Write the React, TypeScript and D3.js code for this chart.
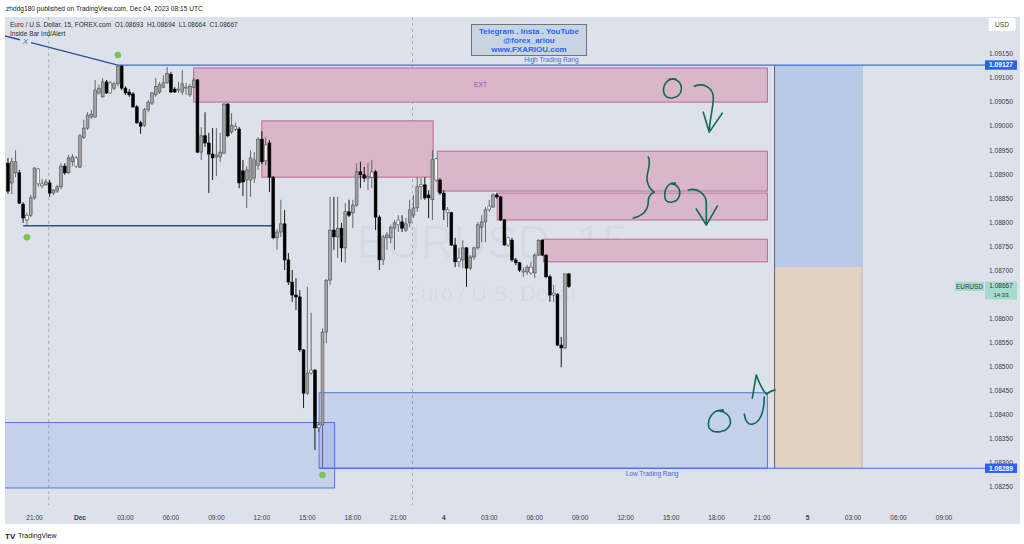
import React from 'react';
import * as d3 from 'd3';

const W = 1024;
const H = 544;

// 15-minute bars; bar 0 = Thu Nov 30 21:00 UTC. First candle is bar -7.
const FIRST_BAR = -7;
// [open, high, low, close]
const candles: [number, number, number, number][] = [
  [1.08923, 1.08934, 1.08859, 1.08865], // -7
  [1.08882, 1.08934, 1.08859, 1.08926], // -6
  [1.08903, 1.0895, 1.08894, 1.08926], // -5
  [1.08903, 1.08909, 1.08838, 1.0884], // -4
  [1.08838, 1.08842, 1.08799, 1.08809], // -3
  [1.08805, 1.0882, 1.08795, 1.08815], // -2
  [1.08815, 1.08857, 1.08811, 1.08851], // -1
  [1.08851, 1.08915, 1.08847, 1.08913], // 0
  [1.08911, 1.08913, 1.08874, 1.0888], // 1
  [1.0888, 1.0889, 1.08871, 1.08876], // 2
  [1.08878, 1.0889, 1.08876, 1.08884], // 3
  [1.08882, 1.08888, 1.08853, 1.08861], // 4
  [1.08861, 1.08869, 1.08857, 1.08867], // 5
  [1.08865, 1.08878, 1.08861, 1.08874], // 6
  [1.08874, 1.08923, 1.08869, 1.08917], // 7
  [1.08917, 1.08923, 1.08899, 1.08903], // 8
  [1.08903, 1.0894, 1.08901, 1.08934], // 9
  [1.08926, 1.08942, 1.08917, 1.08936], // 10
  [1.08934, 1.08938, 1.08913, 1.08917], // 11
  [1.08915, 1.08984, 1.08913, 1.0898], // 12
  [1.08977, 1.09013, 1.08973, 1.08996], // 13
  [1.08996, 1.09029, 1.08992, 1.09023], // 14
  [1.09019, 1.09034, 1.09015, 1.09025], // 15
  [1.09019, 1.09096, 1.09017, 1.09075], // 16
  [1.09069, 1.09086, 1.09065, 1.09079], // 17
  [1.09061, 1.091, 1.09059, 1.09092], // 18
  [1.09092, 1.09096, 1.09067, 1.09069], // 19
  [1.09069, 1.09094, 1.09067, 1.0909], // 20
  [1.09079, 1.09092, 1.09075, 1.09088], // 21
  [1.09088, 1.09127, 1.09083, 1.09125], // 22
  [1.09125, 1.09127, 1.09075, 1.09079], // 23
  [1.09079, 1.09083, 1.09065, 1.09069], // 24
  [1.09071, 1.09077, 1.09061, 1.09065], // 25
  [1.09067, 1.09071, 1.09038, 1.0904], // 26
  [1.0904, 1.09044, 1.09005, 1.09007], // 27
  [1.09007, 1.09011, 1.08984, 1.09], // 28
  [1.09002, 1.09038, 1.08998, 1.09034], // 29
  [1.09034, 1.09054, 1.09029, 1.0905], // 30
  [1.09048, 1.09071, 1.09044, 1.09069], // 31
  [1.09065, 1.091, 1.09061, 1.09083], // 32
  [1.09071, 1.09092, 1.09067, 1.09086], // 33
  [1.09081, 1.09106, 1.09079, 1.0909], // 34
  [1.0909, 1.09123, 1.09088, 1.0911], // 35
  [1.09108, 1.09113, 1.09069, 1.09071], // 36
  [1.09077, 1.09081, 1.09069, 1.09071], // 37
  [1.09075, 1.09092, 1.09069, 1.09077], // 38
  [1.09071, 1.09117, 1.09065, 1.09088], // 39
  [1.09079, 1.0909, 1.09065, 1.09081], // 40
  [1.09065, 1.09088, 1.09061, 1.09083], // 41
  [1.09081, 1.091, 1.09079, 1.09096], // 42
  [1.09096, 1.09098, 1.08944, 1.08946], // 43
  [1.08946, 1.08998, 1.0893, 1.0898], // 44
  [1.0898, 1.09029, 1.08957, 1.08965], // 45
  [1.08965, 1.08986, 1.08861, 1.08942], // 46
  [1.08942, 1.08996, 1.08888, 1.08934], // 47
  [1.08936, 1.08996, 1.08896, 1.0894], // 48
  [1.08936, 1.08986, 1.08926, 1.08946], // 49
  [1.08944, 1.09048, 1.08942, 1.09046], // 50
  [1.09046, 1.09048, 1.08977, 1.0898], // 51
  [1.08988, 1.09027, 1.08984, 1.09002], // 52
  [1.09, 1.09007, 1.0899, 1.08994], // 53
  [1.08994, 1.08998, 1.08871, 1.08882], // 54
  [1.08907, 1.0893, 1.08855, 1.08884], // 55
  [1.08888, 1.08917, 1.0883, 1.08909], // 56
  [1.08888, 1.0895, 1.08853, 1.08934], // 57
  [1.08892, 1.08946, 1.08882, 1.0893], // 58
  [1.08919, 1.08977, 1.08909, 1.08973], // 59
  [1.08973, 1.0899, 1.08921, 1.08926], // 60
  [1.08928, 1.08977, 1.08919, 1.08961], // 61
  [1.08965, 1.08971, 1.08863, 1.08894], // 62
  [1.08894, 1.08896, 1.08765, 1.08768], // 63
  [1.08768, 1.08786, 1.08743, 1.0878], // 64
  [1.0878, 1.08847, 1.0877, 1.08797], // 65
  [1.08797, 1.08826, 1.08701, 1.08722], // 66
  [1.08722, 1.08736, 1.0867, 1.08676], // 67
  [1.08676, 1.08701, 1.08635, 1.08649], // 68
  [1.08649, 1.08684, 1.08618, 1.08645], // 69
  [1.08645, 1.08659, 1.08531, 1.08535], // 70
  [1.08535, 1.08537, 1.08414, 1.08445], // 71
  [1.08445, 1.08666, 1.08441, 1.08487], // 72
  [1.08487, 1.08612, 1.08483, 1.08493], // 73
  [1.08493, 1.08495, 1.08327, 1.08373], // 74
  [1.08373, 1.08383, 1.08364, 1.08379], // 75
  [1.08379, 1.0858, 1.08289, 1.08572], // 76
  [1.08572, 1.08682, 1.08549, 1.0868], // 77
  [1.0868, 1.08853, 1.0867, 1.08784], // 78
  [1.08784, 1.08853, 1.08743, 1.0877], // 79
  [1.0877, 1.08853, 1.08726, 1.08788], // 80
  [1.08788, 1.08799, 1.08718, 1.08747], // 81
  [1.08747, 1.0884, 1.08716, 1.08822], // 82
  [1.08822, 1.08847, 1.08811, 1.08815], // 83
  [1.0882, 1.08847, 1.08788, 1.08836], // 84
  [1.08836, 1.08923, 1.08832, 1.08905], // 85
  [1.08905, 1.08926, 1.08871, 1.08899], // 86
  [1.08899, 1.08915, 1.08884, 1.08892], // 87
  [1.08892, 1.08923, 1.08867, 1.08896], // 88
  [1.08894, 1.0893, 1.08871, 1.08905], // 89
  [1.08905, 1.08909, 1.08784, 1.08811], // 90
  [1.08811, 1.08815, 1.08701, 1.08722], // 91
  [1.08722, 1.08774, 1.08711, 1.0877], // 92
  [1.08768, 1.0878, 1.08743, 1.08774], // 93
  [1.08768, 1.08795, 1.08757, 1.0879], // 94
  [1.08788, 1.08805, 1.08743, 1.08799], // 95
  [1.08795, 1.08815, 1.0878, 1.08805], // 96
  [1.08801, 1.08815, 1.0878, 1.08788], // 97
  [1.08784, 1.08809, 1.0878, 1.08797], // 98
  [1.08799, 1.08847, 1.0879, 1.08826], // 99
  [1.08815, 1.08857, 1.08809, 1.0883], // 100
  [1.0883, 1.08894, 1.08822, 1.08874], // 101
  [1.08874, 1.08892, 1.08847, 1.08878], // 102
  [1.08878, 1.08894, 1.08847, 1.08851], // 103
  [1.08857, 1.08867, 1.08809, 1.08851], // 104
  [1.08847, 1.0895, 1.08805, 1.0893], // 105
  [1.08932, 1.08934, 1.08884, 1.08888], // 106
  [1.08888, 1.08892, 1.08857, 1.08861], // 107
  [1.08861, 1.08867, 1.08805, 1.08826], // 108
  [1.08826, 1.08832, 1.0879, 1.0882], // 109
  [1.0882, 1.08822, 1.08751, 1.08753], // 110
  [1.08753, 1.08768, 1.08707, 1.08718], // 111
  [1.08718, 1.08747, 1.08707, 1.08726], // 112
  [1.08722, 1.08763, 1.08705, 1.08747], // 113
  [1.08747, 1.08749, 1.08666, 1.08705], // 114
  [1.08705, 1.08732, 1.08701, 1.08728], // 115
  [1.08728, 1.08749, 1.08722, 1.08747], // 116
  [1.08747, 1.08801, 1.08743, 1.08795], // 117
  [1.0879, 1.08815, 1.08759, 1.08801], // 118
  [1.08801, 1.08832, 1.08759, 1.08826], // 119
  [1.08826, 1.08847, 1.08822, 1.08834], // 120
  [1.08832, 1.08861, 1.0883, 1.08857], // 121
  [1.08857, 1.08861, 1.08849, 1.08853], // 122
  [1.08853, 1.08855, 1.08803, 1.08805], // 123
  [1.08805, 1.08807, 1.08751, 1.08753], // 124
  [1.08753, 1.0877, 1.08749, 1.08768], // 125
  [1.08763, 1.08768, 1.08718, 1.08722], // 126
  [1.08722, 1.08726, 1.08711, 1.08716], // 127
  [1.08716, 1.08718, 1.08697, 1.08701], // 128
  [1.08699, 1.08707, 1.08687, 1.08697], // 129
  [1.08697, 1.08711, 1.08691, 1.08707], // 130
  [1.08695, 1.08718, 1.08691, 1.08707], // 131
  [1.08695, 1.08736, 1.08684, 1.08732], // 132
  [1.08732, 1.08765, 1.0873, 1.08763], // 133
  [1.08763, 1.08765, 1.0873, 1.08732], // 134
  [1.08732, 1.08734, 1.08684, 1.08687], // 135
  [1.08687, 1.08691, 1.08635, 1.08649], // 136
  [1.08649, 1.0867, 1.08635, 1.08653], // 137
  [1.08651, 1.08653, 1.08543, 1.08545], // 138
  [1.08545, 1.08562, 1.08499, 1.08539], // 139
  [1.08539, 1.08693, 1.08537, 1.08693], // 140
  [1.08693, 1.08694, 1.08664, 1.08667], // 141
];

// bars coloured by the "Inside Bar Ind/Alert" indicator (hollow)
const insideBars = [-2, 1, 2, 11, 20, 38, 40, 53, 61, 73, 75, 89, 96, 102, 106, 109, 112, 120, 125, 129, 131, 137];

const priceTicks = [1.0915, 1.091, 1.0905, 1.09, 1.0895, 1.089, 1.0885, 1.088, 1.0875, 1.087, 1.0865, 1.086, 1.0855, 1.085, 1.0845, 1.084, 1.0835, 1.083, 1.0825];

const timeTickBars = [0, 12, 24, 36, 48, 60, 72, 84, 96, 108, 120, 132, 144, 156, 168, 180, 192, 204, 216, 228, 240];
const timeTickLabels = ['21:00', 'Dec', '03:00', '06:00', '09:00', '12:00', '15:00', '18:00', '21:00', '4', '03:00', '06:00', '09:00', '12:00', '15:00', '18:00', '21:00', '5', '03:00', '06:00', '09:00'];
const boldTimeLabels = ['Dec', '4', '5'];

const sessionBreakBars = [4, 100];

// supply zones [fromBar, toBar, top, bottom]
const supplyZones: [number, number, number, number][] = [
  [42, 193.4, 1.09121, 1.0905],
  [60, 105.2, 1.09011, 1.08894],
  [106.3, 193.4, 1.08948, 1.08865],
  [122.1, 193.4, 1.08861, 1.08805],
  [134.3, 193.4, 1.08765, 1.08718],
];
// demand zones [fromBar, toBar, top, bottom]
const demandZones: [number, number, number, number][] = [
  [-9, 79.2, 1.08384, 1.08248],
  [75.1, 193.4, 1.08446, 1.08289],
];
// position tool [fromBar, toBar, target, entry, stop]
const positionTool = [195.3, 218.4, 1.09127, 1.08707, 1.08289];

const highRange = { bar: 22, price: 1.09127, label: 'High Trading Rang' };
const lowRange = { bar: 75.1, price: 1.08289, label: 'Low Trading Rang' };
const swingLine = { from: -3, to: 63, price: 1.08793 };
const trendLine: [number, number][] = [[-8, 1.09188], [22, 1.09127]];
// pivot dots [bar, price]
const pivotDots: [number, number][] = [[22, 1.09148], [-2, 1.08769], [76, 1.08275]];

const lastClose = 1.08667;

// hand-drawn annotations: anchor [bar, price] + stroke shape in local pixels
const annotations: { bar: number; price: number; d: string }[] = [
  { bar: 168.3, price: 1.09079, d: 'M4,-9 C-5,-11 -11,-2 -8,6 C-5,12 7,11 9,2 C10,-5 5,-10 -3,-9 M22,-2 C32,-6 42,0 41,12 C40,24 37,34 37,44 M31,24 L37,44 L50,25' },
  { bar: 168.3, price: 1.08861, d: 'M-24,-36 C-20,-30 -27,-18 -25,-12 C-24,-6 -21,-3 -18,-1 C-22,1 -24,4 -24,8 C-24,14 -26,22 -39,25 M3,-10 C-5,-11 -9,-2 -7,6 C-5,11 5,10 7,3 C9,-4 4,-10 -2,-9 M16,-3 C26,-6 34,2 34,10 C34,18 34,26 34,32 M24,16 L34,32 L45,13' },
  { bar: 180.7, price: 1.08387, d: 'M4,-11 C-7,-12 -13,-1 -10,7 C-6,13 8,12 11,3 C12,-5 6,-11 -3,-10 M25,-7 C26,1 30,4 33,3 C40,2 45,-8 45,-24 M33,-23 L37,-46 C40,-38 44,-30 47,-27 C50,-29 53,-31 56,-31' },
];

const FONT = '"Liberation Sans", Arial, sans-serif';

export default function App() {
  const x = d3.scaleLinear().domain([0, 240]).range([34.5, 944]);
  const y = d3.scaleLinear().domain([1.0825, 1.0915]).range([487, 54]);
  const paneL = 5, paneR = 985, paneT = 17, paneB = 505;
  const bodyW = 2.8;

  const line = d3.line<[number, number]>().x((d) => x(d[0])).y((d) => y(d[1]));

  const tlA = trendLine[0], tlB = trendLine[1];
  const interp = (px: number): [number, number] => {
    const b = x.invert(px);
    const t = (b - tlA[0]) / (tlB[0] - tlA[0]);
    return [b, tlA[1] + t * (tlB[1] - tlA[1])];
  };

  const hiX1 = x(highRange.bar);
  const loX1 = x(lowRange.bar);
  const lastY = y(lastClose);
  // the last-price label box hides the tick labels it covers
  const visibleTicks = priceTicks.filter((p) => Math.abs(y(p) - (lastY + 4)) > 9);

  return (
    <svg width={W} height={H} style={{ position: 'absolute', left: 0, top: 0, fontFamily: FONT }}>
      <defs>
        <clipPath id="pane">
          <rect x={paneL} y={paneT} width={paneR - paneL} height={paneB - paneT} />
        </clipPath>
      </defs>
      <rect width={W} height={H} fill="#ffffff" />
      <rect x={5} y={17} width={1015} height={507} fill="#dde1e9" />

      <g clipPath="url(#pane)">
        {/* watermark */}
        <text x={492} y={258} textAnchor="middle" fontSize={46} fill="#000" fillOpacity={0.035}>EURUSD, 15</text>
        <text x={492} y={301} textAnchor="middle" fontSize={22} fill="#000" fillOpacity={0.035}>Euro / U.S. Dollar</text>

        {sessionBreakBars.map((b, i) => (
          <line key={i} x1={x(b) - 1} x2={x(b) - 1} y1={paneT} y2={paneB} stroke="#9aa0ab" strokeWidth={0.8} strokeDasharray="3,3" />
        ))}

        {/* position tool */}
        <rect x={x(positionTool[0])} y={y(positionTool[2])} width={x(positionTool[1]) - x(positionTool[0])} height={y(positionTool[3]) - y(positionTool[2])} fill="#b9cae8" />
        <rect x={x(positionTool[0])} y={y(positionTool[3])} width={x(positionTool[1]) - x(positionTool[0])} height={y(positionTool[4]) - y(positionTool[3])} fill="#e3d4c2" />
        <line x1={x(positionTool[1])} x2={x(positionTool[1])} y1={y(positionTool[2])} y2={y(positionTool[4])} stroke="#aab3c2" strokeWidth={0.8} />
        <line x1={x(positionTool[0])} x2={x(positionTool[0])} y1={y(positionTool[2])} y2={y(positionTool[4])} stroke="#5d6068" strokeWidth={1} />

        {/* supply zones */}
        {supplyZones.map((z, i) => (
          <rect key={i} x={x(z[0])} y={y(z[2])} width={x(z[1]) - x(z[0])} height={y(z[3]) - y(z[2])} fill="#d9b6ca" stroke="#bb6a92" strokeWidth={1} />
        ))}
        {/* demand zones */}
        {demandZones.map((z, i) => (
          <rect key={i} x={x(z[0])} y={y(z[2])} width={x(z[1]) - x(z[0])} height={y(z[3]) - y(z[2])} fill="rgba(41,98,255,0.13)" stroke="#5277d8" strokeWidth={1} />
        ))}

        {/* lines */}
        <line x1={x(swingLine.from)} x2={x(swingLine.to)} y1={y(swingLine.price)} y2={y(swingLine.price)} stroke="#2d4f9e" strokeWidth={1.3} />
        <line x1={hiX1} x2={paneR} y1={y(highRange.price)} y2={y(highRange.price)} stroke="#3f6ce0" strokeWidth={1.2} />
        <line x1={loX1} x2={paneR} y1={y(lowRange.price)} y2={y(lowRange.price)} stroke="#3f6ce0" strokeWidth={1.2} />
        <path d={line([tlA, interp(20)]) || ''} stroke="#2d4f9e" strokeWidth={1.4} fill="none" />
        <path d={line([interp(31), tlB]) || ''} stroke="#2d4f9e" strokeWidth={1.4} fill="none" />
        <text x={25.5} y={43.5} textAnchor="middle" fontSize={8} fontStyle="italic" fill="#3f6ce0">X</text>

        {/* candles */}
        {candles.map((c, k) => {
          const bar = FIRST_BAR + k;
          const [o, h, l, cl] = c;
          const cx = x(bar);
          const up = cl >= o;
          const inside = insideBars.includes(bar);
          const top = y(Math.max(o, cl));
          const bot = y(Math.min(o, cl));
          const fill = inside ? '#ffffff' : up ? '#a3a3a3' : '#000000';
          const stroke = up || inside ? '#4d4d4d' : '#000000';
          return (
            <g key={k}>
              <line x1={cx} x2={cx} y1={y(h)} y2={y(l)} stroke={up || inside ? '#5a5a5a' : '#000'} strokeWidth={0.9} />
              <rect x={cx - bodyW / 2} y={top} width={bodyW} height={Math.max(bot - top, 0.8)} fill={fill} stroke={stroke} strokeWidth={0.6} />
            </g>
          );
        })}

        {pivotDots.map((p, i) => (
          <circle key={i} cx={x(p[0])} cy={y(p[1])} r={3.3} fill="#7cc35a" />
        ))}

        {annotations.map((a, i) => (
          <path key={i} transform={`translate(${x(a.bar)},${y(a.price)})`} d={a.d} fill="none" stroke="#0d6b52" strokeWidth={1.6} strokeLinecap="round" strokeLinejoin="round" />
        ))}

        <text x={(x(supplyZones[0][0]) + x(supplyZones[0][1])) / 2} y={y((supplyZones[0][2] + supplyZones[0][3]) / 2) + 2} textAnchor="middle" fontSize={6.8} fill="#a945c0">EXT</text>
        <text x={(hiX1 + paneR) / 2} y={y(highRange.price) - 3} textAnchor="middle" fontSize={6.5} fill="#3f6ce0">{highRange.label}</text>
        <text x={(loX1 + paneR) / 2} y={y(lowRange.price) + 8} textAnchor="middle" fontSize={6.5} fill="#3f6ce0">{lowRange.label}</text>
      </g>

      {/* price axis */}
      {visibleTicks.map((p, i) => (
        <text key={i} x={989} y={y(p) + 2.3} fontSize={6.6} fill="#3b3f47">{p.toFixed(5)}</text>
      ))}
      <rect x={988} y={17.5} width={28} height={14} fill="#ffffff" stroke="#d0d3da" strokeWidth={0.6} rx={1.5} />
      <text x={1002} y={27} textAnchor="middle" fontSize={6.6} fill="#3b3f47">USD</text>

      {[highRange.price, lowRange.price].map((p, i) => (
        <g key={i}>
          <rect x={985} y={y(p) - 4.7} width={32} height={9.4} fill="#2962ff" />
          <text x={1001} y={y(p) + 2.4} textAnchor="middle" fontSize={6.6} fontWeight="bold" fill="#ffffff">{p.toFixed(5)}</text>
        </g>
      ))}

      <rect x={955} y={lastY - 4.6} width={29} height={9.2} fill="#a5dccd" />
      <text x={969.5} y={lastY + 2.3} textAnchor="middle" fontSize={6.4} fill="#2a3a36">EURUSD</text>
      <rect x={985} y={lastY - 4.8} width={32} height={18} fill="#a5dccd" />
      <text x={1001} y={lastY + 2} textAnchor="middle" fontSize={6.5} fill="#2a3a36">{lastClose.toFixed(5)}</text>
      <text x={1001} y={lastY + 11} textAnchor="middle" fontSize={6.1} fill="#2a3a36">14:33</text>

      {/* time axis */}
      {timeTickBars.map((b, i) => (
        <text key={i} x={x(b)} y={519.5} textAnchor="middle" fontSize={6.6} fontWeight={boldTimeLabels.includes(timeTickLabels[i]) ? 'bold' : 'normal'} fill="#3b3f47">{timeTickLabels[i]}</text>
      ))}

      {/* header & legend */}
      <text x={6} y={11} fontSize={6.6} fill="#222">zhddg180 published on TradingView.com, Dec 04, 2023 08:15 UTC</text>
      <text x={10} y={26.5} fontSize={6.5} fill="#2a2e39" style={{ whiteSpace: 'pre' }}>{'Euro / U.S. Dollar, 15, FOREX.com  O1.08693  H1.08694  L1.08664  C1.08667'}</text>
      <text x={10} y={35.5} fontSize={6.5} fill="#2a2e39">Inside Bar Ind/Alert</text>

      <rect x={471.5} y={24.5} width={115} height={31} fill="#c9d4e3" stroke="#6f7480" strokeWidth={1} />
      <text x={529} y={34} textAnchor="middle" fontSize={8} fontWeight="bold" fill="#2a62ff">Telegram . Insta . YouTube</text>
      <text x={529} y={42.5} textAnchor="middle" fontSize={8} fontWeight="bold" fill="#2a62ff">@forex_ariou</text>
      <text x={529} y={51.5} textAnchor="middle" fontSize={8} fontWeight="bold" fill="#2a62ff">www.FXARIOU.com</text>

      {/* footer logo */}
      <text x={5} y={538.5} fontSize={8} fontWeight="bold" fill="#131722">TV</text>
      <text x={18} y={538} fontSize={7} fill="#131722">TradingView</text>
    </svg>
  );
}
